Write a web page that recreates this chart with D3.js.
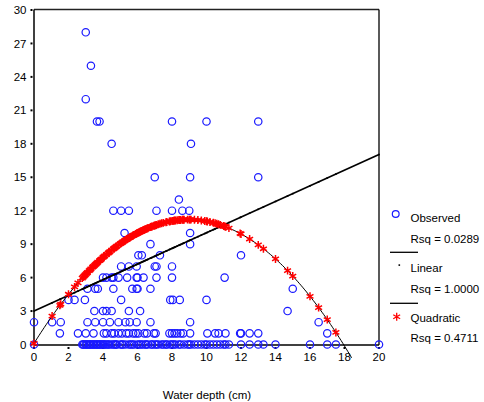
<!DOCTYPE html>
<html><head><meta charset="utf-8">
<script src="https://cdn.jsdelivr.net/npm/d3@7"></script>
<style>body{margin:0;background:#fff}svg{display:block}text{font-family:"Liberation Sans",Arial,sans-serif;font-size:11.5px;fill:#000}</style>
</head><body><svg id="c" width="484" height="402"></svg>
<script>
// Observed values: [y, [x values at that y]]
const observedRows = [
  [28, [3.0]],
  [25, [3.3]],
  [22, [3.0]],
  [20, [3.65, 3.8, 8.0, 10.0, 13.0]],
  [18, [4.5, 9.1]],
  [15, [7.0, 9.05, 13.0]],
  [13, [8.4]],
  [12, [4.6, 5.05, 5.5, 7.1, 8.0, 8.6, 9.0]],
  [10, [5.25, 9.05]],
  [9, [6.75, 9.05]],
  [8, [6.05, 6.25, 7.3, 12.0]],
  [7, [5.05, 5.5, 5.95, 7.0, 7.1, 8.0]],
  [6, [4.0, 4.2, 4.5, 4.6, 4.9, 5.4, 5.95, 6.0, 6.35, 7.1, 8.0, 11.05]],
  [5, [3.1, 3.55, 3.7, 4.6, 5.7, 5.95, 6.0, 6.75, 15.0]],
  [4, [2.0, 2.35, 2.95, 5.05, 7.9, 8.05, 8.45, 10.0]],
  [3, [3.5, 4.0, 4.2, 4.5, 5.5, 6.15, 14.7]],
  [2, [0, 1.05, 1.55, 3.1, 3.55, 4.0, 4.4, 4.9, 5.3, 5.55, 5.95, 6.75, 9.05, 16.5]],
  [1, [1.5, 2.55, 3.0, 3.45, 4.05, 4.2, 4.5, 4.65, 4.9, 5.1, 5.35, 5.5, 5.75, 5.9, 6.05, 6.4, 6.55, 6.95, 7.05, 7.85, 8.0, 8.15, 8.3, 8.5, 8.65, 9.05, 10.05, 10.5, 10.7, 11.1, 11.95, 12.0, 12.5, 13.0, 17.0]],
  [0, [0, 2.8, 2.85, 2.9, 3.0, 3.05, 3.1, 3.2, 3.25, 3.3, 3.4, 3.45, 3.5, 3.6, 3.65, 3.7, 3.8, 3.85, 3.9, 4.0, 4.05, 4.1, 4.2, 4.3, 4.35, 4.5, 4.6, 4.7, 4.75, 4.8, 5.0, 5.1, 5.15, 5.3, 5.5, 5.6, 5.7, 5.8, 6.0, 6.1, 6.2, 6.3, 6.45, 6.5, 6.6, 6.8, 6.85, 7.0, 7.1, 7.2, 7.4, 7.5, 7.65, 7.7, 7.9, 8.0, 8.1, 8.2, 8.4, 8.5, 8.7, 8.9, 9.0, 9.1, 9.3, 9.5, 9.7, 9.9, 10.0, 10.2, 10.4, 10.6, 10.8, 11.0, 11.1, 11.3, 12.0, 12.5, 13.0, 13.3, 14.0, 16.0, 17.0, 17.5, 20.0]]
];
const linearCoef = [3.0, 0.702];          // y = a + b x
const quadCoef = [0.1, 2.48, -0.1385];    // y = a + b x + c x^2
const quadEnd = 18.42;
const xTicks = [0, 2, 4, 6, 8, 10, 12, 14, 16, 18, 20];
const yTicks = [0, 3, 6, 9, 12, 15, 18, 21, 24, 27, 30];
const legendLabels = ["Observed", "Rsq = 0.0289", "Linear", "Rsq = 1.0000", "Quadratic", "Rsq = 0.4711"];
const xTitle = "Water depth (cm)";

const svg = d3.select("#c");
const x = d3.scaleLinear().domain([0, 20]).range([34, 379]);
const y = d3.scaleLinear().domain([0, 30]).range([344.5, 10]);
const X0 = 34, X1 = 379, Yb = 345, Yt = 9.5;

const obs = [];
observedRows.forEach(([yy, xs]) => xs.forEach(xx => obs.push({x: xx, y: yy})));
const uniqX = Array.from(new Set(obs.map(d => d.x))).sort((a, b) => a - b);
const lin = v => linearCoef[0] + linearCoef[1] * v;
const quad = v => quadCoef[0] + quadCoef[1] * v + quadCoef[2] * v * v;

// frame
svg.append("line").attr("x1", X0).attr("x2", X1).attr("y1", Yt).attr("y2", Yt).attr("stroke", "#222").attr("stroke-width", 1.5);
svg.append("line").attr("x1", X1).attr("x2", X1).attr("y1", Yt).attr("y2", Yb).attr("stroke", "#000").attr("stroke-width", 1.3);
svg.append("line").attr("x1", X0).attr("x2", X0).attr("y1", Yt).attr("y2", Yb).attr("stroke", "#000").attr("stroke-width", 1.5);
svg.append("line").attr("x1", X0).attr("x2", X1).attr("y1", Yb).attr("y2", Yb).attr("stroke", "#000").attr("stroke-width", 1.5);

// ticks
yTicks.forEach(t => {
  svg.append("rect").attr("x", 30.5).attr("y", y(t) - 1).attr("width", 2).attr("height", 2).attr("fill", "#000");
  svg.append("text").attr("x", 26.5).attr("y", y(t)).attr("dy", "0.36em").attr("text-anchor", "end").text(t);
});
xTicks.forEach(t => {
  svg.append("rect").attr("x", x(t) - 1).attr("y", 347).attr("width", 2).attr("height", 2).attr("fill", "#000");
  svg.append("text").attr("x", x(t)).attr("y", 360.5).attr("text-anchor", "middle").text(t);
});
svg.append("text").attr("x", 207).attr("y", 398.5).attr("text-anchor", "middle").text(xTitle);

// observed circles
svg.append("g").selectAll("circle").data(obs).join("circle")
  .attr("cx", d => x(d.x)).attr("cy", d => y(d.y)).attr("r", 3.7)
  .attr("fill", "none").attr("stroke", "#1a1aff").attr("stroke-width", 1.2);

// linear fit
svg.append("line").attr("x1", x(0)).attr("y1", y(lin(0))).attr("x2", x(20)).attr("y2", y(lin(20)))
  .attr("stroke", "#000").attr("stroke-width", 1.7);
svg.append("g").selectAll("rect").data(uniqX).join("rect")
  .attr("x", d => x(d) - 0.8).attr("y", d => y(lin(d)) - 0.8).attr("width", 1.6).attr("height", 1.6).attr("fill", "#000");

// quadratic curve
const qPts = d3.range(0, quadEnd + 0.001, 0.1).concat([quadEnd]);
svg.append("path").datum(qPts)
  .attr("d", d3.line().x(d => x(d)).y(d => y(quad(d))))
  .attr("fill", "none").attr("stroke", "#000").attr("stroke-width", 1);
const star = d3.symbol().type(d3.symbolAsterisk).size(44);
svg.append("g").selectAll("path").data(uniqX).join("path")
  .attr("transform", d => `translate(${x(d)},${y(quad(d))})`)
  .attr("d", star).attr("fill", "none").attr("stroke", "#ff0000").attr("stroke-width", 1.5);

// legend
const lg = svg.append("g");
lg.append("circle").attr("cx", 395.7).attr("cy", 214).attr("r", 3.4).attr("fill", "none").attr("stroke", "#1a1aff").attr("stroke-width", 1.2);
const ly = [221.5, 243, 272, 293, 322, 342];
legendLabels.forEach((t, i) => lg.append("text").attr("x", 410.5).attr("y", ly[i]).text(t));
lg.append("line").attr("x1", 390).attr("x2", 418).attr("y1", 252.3).attr("y2", 252.3).attr("stroke", "#000").attr("stroke-width", 1.3);
lg.append("rect").attr("x", 398.5).attr("y", 264.3).attr("width", 1.6).attr("height", 1.6).attr("fill", "#000");
lg.append("line").attr("x1", 390).attr("x2", 418).attr("y1", 303.3).attr("y2", 303.3).attr("stroke", "#000").attr("stroke-width", 1.3);
lg.append("path").attr("transform", "translate(396.7,316.7)").attr("d", star).attr("fill", "none").attr("stroke", "#ff0000").attr("stroke-width", 1.3);
</script></body></html>
